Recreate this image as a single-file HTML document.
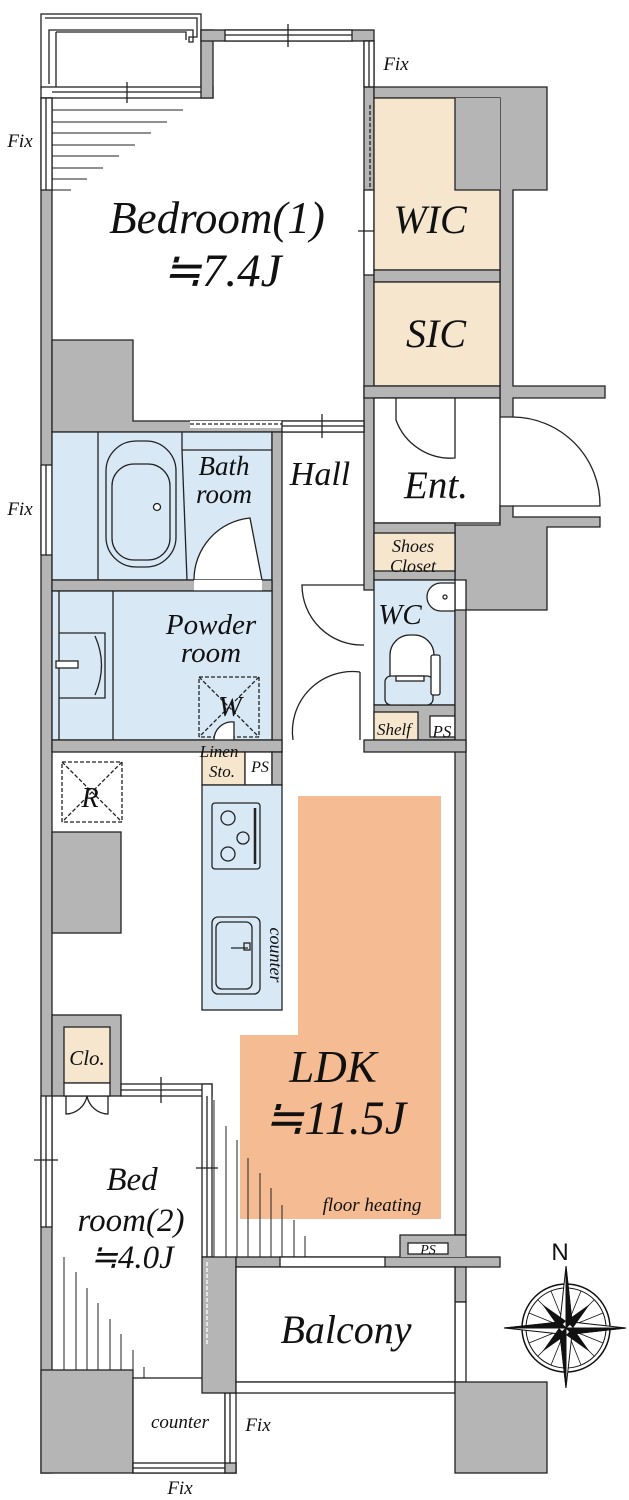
<!DOCTYPE html>
<html><head><meta charset="utf-8"><style>
html,body{margin:0;padding:0;background:#fff;}
svg{display:block;}
text{font-family:"Liberation Serif",serif;font-style:italic;fill:#111;}
</style></head><body>
<svg width="629" height="1500" viewBox="0 0 629 1500" xmlns="http://www.w3.org/2000/svg">
<g stroke="#222" stroke-width="1.3">
<rect x="41" y="14" width="160" height="74" fill="#fff"/>
<path d="M45 18 H197 V37 H189 V42 H193 V30 H49 V84" fill="none"/>
<path d="M56 32 H186 V40 M56 32 V87" fill="none"/>
<rect x="41" y="87" width="172" height="11" fill="#fff"/>
<line x1="52" y1="92" x2="201" y2="92"/>
<line x1="127" y1="82" x2="127" y2="103"/>
<rect x="201" y="30" width="12" height="68" fill="#b5b5b5"/>
<rect x="201" y="30" width="173" height="11" fill="#b5b5b5"/>
<rect x="225" y="30" width="127" height="11" fill="#fff"/>
<line x1="225" y1="35" x2="352" y2="35"/><line x1="288" y1="24" x2="288" y2="47"/>
<rect x="41" y="98" width="11" height="1375" fill="#b5b5b5"/>
<rect x="41" y="98" width="11" height="92" fill="#fff"/><line x1="46" y1="98" x2="46" y2="190"/>
<rect x="41" y="465" width="11" height="90" fill="#fff"/><line x1="46" y1="465" x2="46" y2="555"/>
<rect x="41" y="1096" width="11" height="131" fill="#fff"/><line x1="46" y1="1096" x2="46" y2="1227"/>
<line x1="34" y1="1160" x2="58" y2="1160"/>
<rect x="364" y="41" width="10" height="549" fill="#b5b5b5"/>
<rect x="364" y="41" width="10" height="46" fill="#fff"/><line x1="369" y1="41" x2="369" y2="87"/>
<line x1="370" y1="105" x2="370" y2="190" stroke-dasharray="4,2"/>
<rect x="364" y="190" width="10" height="85" fill="#fff"/>
<line x1="358" y1="231" x2="380" y2="231"/>
<path d="M364 87 H547 V190 H513 V386 H605 V398 H513 V417 H500 V98 H374 V87Z" fill="#b5b5b5"/>
<path d="M455 98 H500 V190 H455Z" fill="#b5b5b5" stroke="none"/>
<path d="M374 98 H455 V190 H500 V270 H374Z" fill="#f6e6ce"/>
<rect x="374" y="270" width="126" height="12" fill="#b5b5b5"/>
<rect x="374" y="282" width="126" height="104" fill="#f6e6ce"/>
<rect x="364" y="386" width="136" height="12" fill="#b5b5b5"/>
<rect x="374" y="398" width="126" height="125" fill="#fff"/>
<path d="M396 398 V420 A58 58 0 0 0 455 458 V398" fill="none"/>
<path d="M500 506 H513 V517 H600 V527 H547 V610 H466 V580 H455 V525 H500Z" fill="#b5b5b5"/>
<path d="M513 417 A88 88 0 0 1 600 506 H513" fill="none"/>
<rect x="374" y="523" width="81" height="57" fill="#b5b5b5"/>
<rect x="374" y="533" width="81" height="38" fill="#f6e6ce"/>
<rect x="374" y="580" width="81" height="125" fill="#d8e8f5"/>
<rect x="374" y="705" width="81" height="35" fill="#b5b5b5"/>
<rect x="374" y="712" width="44" height="28" fill="#f6e6ce"/>
<rect x="430" y="716" width="25" height="21" fill="#fff"/>
<path d="M455 583 H441 A13 13 0 0 0 441 611 H455Z" fill="#fff"/><circle cx="445" cy="597" r="2" fill="none"/>
<rect x="390" y="635" width="44" height="70" rx="20" fill="#fff"/>
<rect x="385" y="676" width="48" height="29" rx="6" fill="#d8e8f5"/>
<rect x="396" y="676" width="28" height="5" fill="#fff"/>
<rect x="431" y="655" width="9" height="40" rx="2" fill="#fff"/>
<rect x="455" y="610" width="11" height="625" fill="#b5b5b5"/>
<rect x="364" y="740" width="102" height="12" fill="#b5b5b5"/>
<path d="M364 585 H302 A60 60 0 0 0 364 645" fill="none"/>
<path d="M360 672 A60 60 0 0 0 293 740 M360 672 V740" fill="none"/>
<path d="M52 340 H133 V421 H364 V432 H52Z" fill="#b5b5b5"/>
<rect x="190" y="421" width="92" height="7" fill="#fff" stroke="none"/>
<line x1="190" y1="424" x2="282" y2="424" stroke-dasharray="4,2"/>
<rect x="282" y="421" width="82" height="11" fill="#fff"/>
<line x1="282" y1="426" x2="364" y2="426"/><line x1="322" y1="414" x2="322" y2="438"/>
<rect x="52" y="432" width="220" height="148" fill="#d8e8f5"/>
<line x1="98" y1="432" x2="98" y2="580"/>
<line x1="182" y1="432" x2="182" y2="450"/><line x1="182" y1="450" x2="272" y2="450"/>
<path d="M182 450 L187 580" fill="none"/>
<rect x="106" y="441" width="70" height="126" rx="30" fill="none"/>
<rect x="112" y="464" width="58" height="96" rx="22" fill="none"/>
<circle cx="157" cy="507" r="3.5" fill="#fff"/>
<path d="M194 580 A62 62 0 0 1 250 518 L262 580" fill="#fff"/>
<rect x="272" y="432" width="10" height="320" fill="#b5b5b5"/>
<rect x="52" y="580" width="220" height="11" fill="#b5b5b5"/>
<rect x="194" y="580" width="68" height="11" fill="#fff" stroke="none"/>
<rect x="52" y="591" width="220" height="149" fill="#d8e8f5"/>
<line x1="59" y1="591" x2="59" y2="740"/><line x1="113" y1="591" x2="113" y2="740"/>
<path d="M59 633 H105 V698 H59" fill="none"/>
<path d="M95 636 Q108 665 95 695" fill="none"/>
<rect x="56" y="661" width="22" height="7" fill="#fff"/>
<rect x="199" y="677" width="60" height="60" fill="none" stroke-dasharray="4,2"/>
<path d="M199 677 L259 737 M259 677 L199 737" stroke-dasharray="4,2"/>
<path d="M214 740 A18 18 0 0 1 234 722 V740" fill="#fff"/>
<rect x="52" y="740" width="230" height="12" fill="#b5b5b5"/>
<rect x="202" y="752" width="43" height="33" fill="#f6e6ce"/>
<rect x="245" y="752" width="27" height="33" fill="#fff"/>
<rect x="272" y="752" width="10" height="33" fill="#b5b5b5"/>
<rect x="202" y="785" width="80" height="225" fill="#d8e8f5"/>
<rect x="212" y="803" width="48" height="66" rx="3" fill="none"/>
<line x1="255" y1="808" x2="255" y2="864" stroke-width="2.5"/>
<circle cx="228" cy="818" r="7" fill="none"/><circle cx="243" cy="838" r="6" fill="none"/><circle cx="228" cy="854" r="7" fill="none"/>
<rect x="212" y="917" width="48" height="77" rx="6" fill="none"/>
<rect x="216" y="922" width="36" height="67" rx="6" fill="none"/>
<line x1="231" y1="948" x2="248" y2="948"/><rect x="244" y="943" width="6" height="7" fill="none"/>
<rect x="62" y="762" width="60" height="60" fill="none" stroke-dasharray="4,2"/>
<path d="M62 762 L122 822 M122 762 L62 822" stroke-dasharray="4,2"/>
<rect x="52" y="832" width="69" height="101" fill="#b5b5b5"/>
<rect x="52" y="1015" width="69" height="81" fill="#b5b5b5"/>
<rect x="64" y="1027" width="46" height="56" fill="#f6e6ce"/>
<rect x="64" y="1083" width="46" height="13" fill="#fff"/>
<path d="M66 1096 V1114 A22 22 0 0 0 87 1096 A22 22 0 0 0 108 1114 V1096" fill="none"/>
<path d="M298 796 H441 V1219 H240 V1035 H298Z" fill="#f5bc94" stroke="none"/>
<rect x="121" y="1084" width="91" height="12" fill="#fff"/><line x1="121" y1="1090" x2="212" y2="1090"/>
<line x1="161" y1="1077" x2="161" y2="1103"/>
<rect x="202" y="1084" width="10" height="173" fill="#fff"/><line x1="207" y1="1096" x2="207" y2="1257"/>
<line x1="196" y1="1168" x2="218" y2="1168"/>
<g stroke-width="1">
<line x1="52" y1="110" x2="183" y2="110"/><line x1="52" y1="122" x2="167" y2="122"/><line x1="52" y1="133" x2="151" y2="133"/><line x1="52" y1="145" x2="135" y2="145"/><line x1="52" y1="156" x2="119" y2="156"/><line x1="52" y1="168" x2="103" y2="168"/><line x1="52" y1="179" x2="87" y2="179"/><line x1="52" y1="190" x2="71" y2="190"/>
<line x1="64" y1="1257" x2="64" y2="1370"/><line x1="76" y1="1272" x2="76" y2="1370"/><line x1="87" y1="1288" x2="87" y2="1370"/><line x1="98" y1="1303" x2="98" y2="1370"/><line x1="110" y1="1319" x2="110" y2="1370"/><line x1="121" y1="1334" x2="121" y2="1370"/><line x1="133" y1="1350" x2="133" y2="1378"/><line x1="144" y1="1367" x2="144" y2="1378"/>
<line x1="214" y1="1100" x2="214" y2="1257"/><line x1="226" y1="1126" x2="226" y2="1257"/><line x1="237" y1="1140" x2="237" y2="1257"/><line x1="248" y1="1158" x2="248" y2="1257"/><line x1="260" y1="1173" x2="260" y2="1257"/><line x1="271" y1="1188" x2="271" y2="1257"/><line x1="282" y1="1205" x2="282" y2="1257"/><line x1="294" y1="1220" x2="294" y2="1257"/><line x1="305" y1="1236" x2="305" y2="1257"/>
</g>
<rect x="41" y="1370" width="92" height="103" fill="#b5b5b5"/>
<rect x="133" y="1378" width="92" height="95" fill="#fff"/>
<rect x="133" y="1463" width="103" height="10" fill="#fff"/><line x1="133" y1="1468" x2="225" y2="1468"/>
<rect x="225" y="1393" width="11" height="80" fill="#fff"/><line x1="230" y1="1393" x2="230" y2="1463"/>
<rect x="225" y="1463" width="11" height="10" fill="#b5b5b5"/>
<rect x="202" y="1257" width="34" height="136" fill="#b5b5b5"/>
<line x1="207" y1="1262" x2="207" y2="1345" stroke="#fff" stroke-dasharray="4,2"/>
<rect x="236" y="1257" width="264" height="10" fill="#b5b5b5"/>
<rect x="280" y="1257" width="105" height="10" fill="#fff"/>
<path d="M281 1267 L291 1290 L300 1267" fill="#fff"/>
<path d="M400 1257 V1235 H466 V1257" fill="#b5b5b5"/>
<rect x="408" y="1243" width="40" height="11" fill="#fff"/>
<rect x="455" y="1267" width="11" height="35" fill="#b5b5b5"/>
<rect x="455" y="1302" width="11" height="80" fill="#fff"/>
<rect x="236" y="1267" width="219" height="115" fill="#fff"/>
<rect x="236" y="1382" width="219" height="11" fill="#fff"/>
<rect x="455" y="1382" width="92" height="91" fill="#b5b5b5"/>
</g>
<g transform="translate(566,1328)" stroke="#111" fill="none">
<circle r="44" stroke-width="1.5"/><circle r="40"/>
<g stroke-width="0.8">
<line x1="0" y1="-40" x2="0" y2="40"/><line x1="-40" y1="0" x2="40" y2="0"/>
<line x1="-28" y1="-28" x2="28" y2="28"/><line x1="28" y1="-28" x2="-28" y2="28"/>
<line x1="-15" y1="-37" x2="15" y2="37"/><line x1="15" y1="-37" x2="-15" y2="37"/>
<line x1="-37" y1="-15" x2="37" y2="15"/><line x1="37" y1="-15" x2="-37" y2="15"/>
</g>
<path d="M0 -62 L6 -6 L60 0 L6 6 L0 60 L-6 6 L-62 0 L-6 -6Z" fill="#fff" stroke-width="1"/>
<path d="M0 -62 L6 -6 L0 0Z M60 0 L6 6 L0 0Z M0 60 L-6 6 L0 0Z M-62 0 L-6 -6 L0 0Z" fill="#111"/>
<path d="M24 -24 L7 0 L0 -7Z M24 24 L0 7 L7 0Z M-24 24 L-7 0 L0 7Z M-24 -24 L0 -7 L-7 0Z" fill="#111" stroke="none"/>
</g>
<text x="560" y="1260" font-size="24" style="font-style:normal;font-family:'Liberation Sans',sans-serif" text-anchor="middle">N</text>
<g text-anchor="middle">
<text x="217" y="233" font-size="45">Bedroom(1)</text>
<text x="222" y="286" font-size="47">≒7.4J</text>
<text x="430" y="233" font-size="40">WIC</text>
<text x="436" y="347" font-size="40">SIC</text>
<text x="320" y="485" font-size="34">Hall</text>
<text x="436" y="498" font-size="39">Ent.</text>
<text x="224" y="475" font-size="27">Bath</text>
<text x="224" y="503" font-size="27">room</text>
<text x="211" y="634" font-size="29">Powder</text>
<text x="211" y="662" font-size="29">room</text>
<text x="230" y="716" font-size="28">W</text>
<text x="90" y="807" font-size="28">R</text>
<text x="400" y="624" font-size="29">WC</text>
<text x="413" y="552" font-size="18">Shoes</text>
<text x="413" y="572" font-size="18">Closet</text>
<text x="394" y="735" font-size="17">Shelf</text>
<text x="442" y="737" font-size="17">PS</text>
<text x="219" y="757" font-size="17">Linen</text>
<text x="222" y="777" font-size="17">Sto.</text>
<text x="260" y="772" font-size="16">PS</text>
<text x="333" y="1082" font-size="45">LDK</text>
<text x="335" y="1134" font-size="48">≒11.5J</text>
<text x="372" y="1211" font-size="19">floor heating</text>
<text x="132" y="1190" font-size="33">Bed</text>
<text x="131" y="1231" font-size="33">room(2)</text>
<text x="132" y="1268" font-size="33">≒4.0J</text>
<text x="346" y="1343" font-size="40">Balcony</text>
<text x="87" y="1065" font-size="21">Clo.</text>
<text x="180" y="1428" font-size="19">counter</text>
<text x="428" y="1254" font-size="14">PS</text>
<text x="20" y="147" font-size="19">Fix</text>
<text x="20" y="515" font-size="19">Fix</text>
<text x="396" y="70" font-size="19">Fix</text>
<text x="258" y="1431" font-size="19">Fix</text>
<text x="180" y="1494" font-size="19">Fix</text>
<text transform="translate(270,955) rotate(90)" font-size="18">counter</text>
</g>
</svg>
</body></html>
